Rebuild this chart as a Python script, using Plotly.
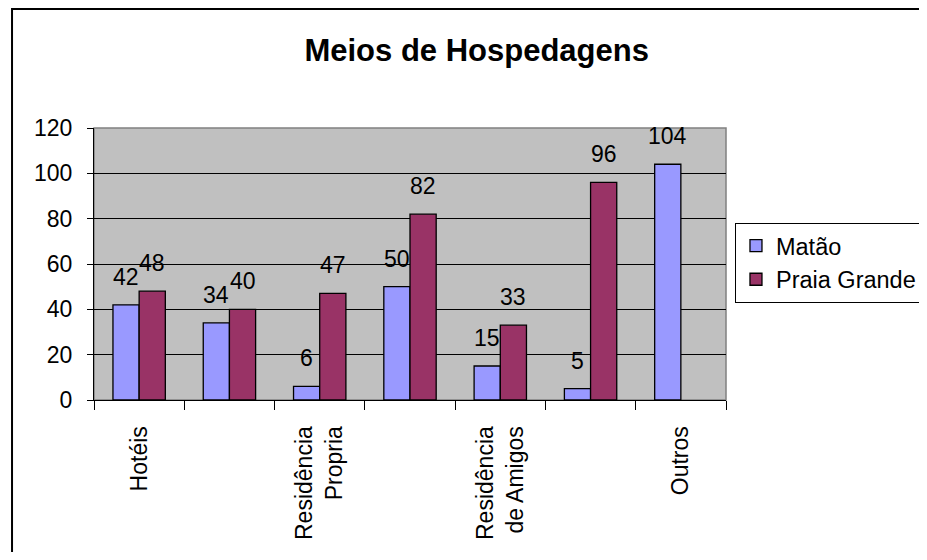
import plotly.graph_objects as go

categories = ["Hotéis", "", "Residência<br>Propria", "", "Residência<br>de Amigos", "", "Outros"]
matao = [42, 34, 6, 50, 15, 5, 104]
praia_grande = [48, 40, 47, 82, 33, 96, None]

FONT = "Arial, Liberation Sans, sans-serif"
pos = list(range(len(categories)))
BARGAP = 0.42

fig = go.Figure()
fig.add_trace(go.Bar(x=pos, y=matao, name="Matão",
                     marker=dict(color="#9999FF", line=dict(color="black", width=1.3))))
fig.add_trace(go.Bar(x=pos, y=praia_grande, name="Praia Grande",
                     marker=dict(color="#993366", line=dict(color="black", width=1.3))))

# value labels centred over each bar, a little above it like Excel does
half = (1 - BARGAP) / 4
for vals, off in [(matao, -half), (praia_grande, half)]:
    for p, v in zip(pos, vals):
        if v is None:
            continue
        fig.add_annotation(x=p + off, y=v, text=str(v), showarrow=False, yanchor="bottom",
                           yshift=13, font=dict(size=23, family=FONT, color="black"))

# page body has an 8px margin all round, so the figure is shrunk to avoid scrollbars
fig.update_layout(
    width=919, height=544,
    margin=dict(l=86, r=201, t=120, b=152, autoexpand=False),
    paper_bgcolor="white", plot_bgcolor="#C0C0C0",
    font=dict(family=FONT, size=23, color="black"),
    barmode="group", bargap=BARGAP, bargroupgap=0,
    title=dict(text="<b>Meios de Hospedagens</b>", x=0.51, xanchor="center", y=1 - 42 / 544, yanchor="middle",
               font=dict(size=31, family=FONT, color="black"), automargin=False),
    showlegend=True,
    legend=dict(x=1.0142, y=0.651, xanchor="left", yanchor="top", bgcolor="white",
                bordercolor="black", borderwidth=1, font=dict(size=23.5, family=FONT),
                traceorder="normal"),
)
fig.update_xaxes(range=[-0.5, 6.5], tickmode="array", tickvals=pos, ticktext=categories,
                 tickangle=-90, ticks="", showgrid=False, zeroline=False, automargin=False,
                 showline=True, linecolor="black", linewidth=1, ticklabelstandoff=16,
                 minor=dict(tickmode="linear", tick0=-0.5, dtick=1, ticks="outside", ticklen=9,
                            tickcolor="black", showgrid=False))
fig.update_yaxes(range=[0, 120], dtick=20, ticks="outside", ticklen=6, tickcolor="black",
                 showgrid=True, gridcolor="black", gridwidth=1, zeroline=False, automargin=False,
                 showline=True, linecolor="black", linewidth=1, ticklabelstandoff=10)

# plot area border and outer chart border
fig.add_shape(type="rect", xref="x domain", yref="y domain", x0=0, x1=1, y0=0, y1=1,
              line=dict(color="#808080", width=1.5), layer="below")
fig.add_shape(type="rect", xref="paper", yref="paper", x0=-0.1297, x1=1.5, y0=-0.7, y1=1.4375,
              line=dict(color="black", width=2))

fig.write_html("out.html")
